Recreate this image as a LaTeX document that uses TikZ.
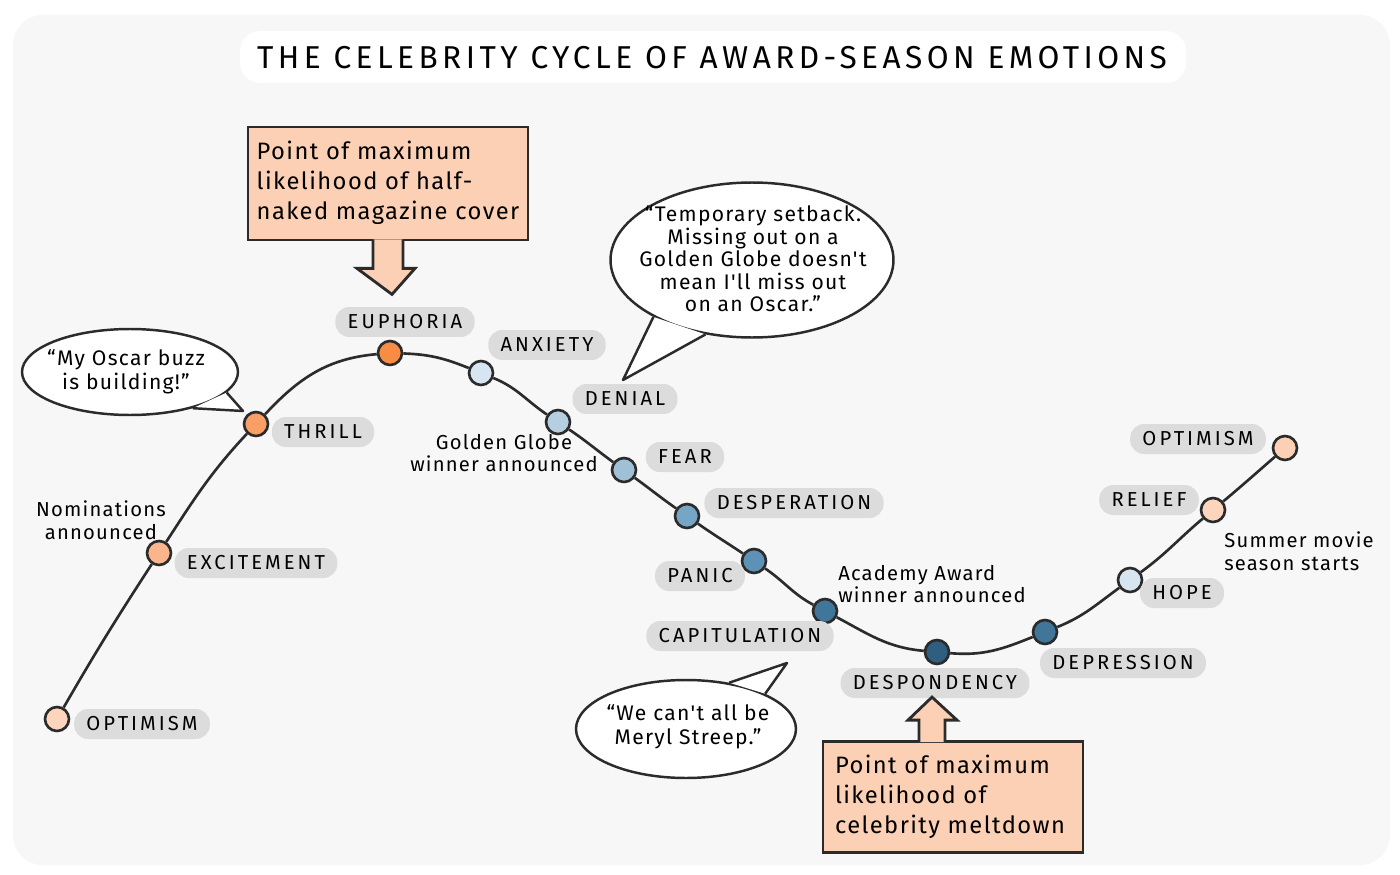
\documentclass[tikz,border=0pt]{standalone}
\usepackage{fontspec}
\setmainfont{Fira Sans}
\newfontfamily\pillfont[LetterSpace=15]{Fira Sans}
\newfontfamily\titlefont[LetterSpace=14]{Fira Sans}
\newfontfamily\handfont[LetterSpace=6]{Fira Sans}
\usepackage{xcolor}
\usepackage{tikz}
\usetikzlibrary{calc,positioning,shapes.geometric}
\definecolor{inkgray}{HTML}{2B2B2B}
\definecolor{paper}{HTML}{F7F7F7}
\definecolor{pillgray}{HTML}{DCDCDC}
\definecolor{peach}{HTML}{FCD0B4}
\definecolor{peachpale}{HTML}{FDD5BD}
\definecolor{peachmid}{HTML}{FBB58C}
\definecolor{peachdeep}{HTML}{F99E64}
\definecolor{orangehot}{HTML}{F78D45}
\definecolor{bluepale}{HTML}{D6E5EF}
\definecolor{bluelight}{HTML}{B5CFE0}
\definecolor{bluesoft}{HTML}{A0C0D6}
\definecolor{bluemid}{HTML}{76A5C6}
\definecolor{bluestrong}{HTML}{5D91B6}
\definecolor{bluedark}{HTML}{3F7699}
\definecolor{bluedeep}{HTML}{2F5E80}
\tikzset{
  stagedot/.style={circle,draw=inkgray,fill=#1,line width=1.5pt,minimum size=0.48cm,inner sep=0pt},
  stagedot/.default=peach,
  pill/.style={rectangle,rounded corners=0.28cm,fill=pillgray,minimum height=0.6cm,inner xsep=7pt,
    font=\pillfont\fontsize{11.5}{12}\selectfont},
  note/.style={align=center,inner sep=0pt,font=\handfont\fontsize{11.5}{13}\selectfont},
  bubble/.style={ellipse,draw=inkgray,fill=white,line width=1.4pt,inner sep=0pt},
  bubtext/.style={align=center,inner sep=0pt,font=\handfont\fontsize{12}{13.5}\selectfont},
  tail/.style={draw=inkgray,fill=white,line width=1.4pt,line join=round},
  callbox/.style={rectangle,draw=inkgray,fill=peach,line width=1.6pt,inner sep=0pt},
  calltext/.style={align=left,inner sep=0pt,font=\handfont\fontsize{13.5}{17}\selectfont},
  callarrow/.style={draw=inkgray,fill=peach,line width=1.6pt,line join=miter},
  cycleline/.style={draw=inkgray,line width=1.5pt}
}

\begin{document}
\begin{tikzpicture}[x=0.02cm,y=-0.02cm]
\useasboundingbox (0,0) rectangle (1400,875);
\fill[white] (0,0) rectangle (1400,875);
\fill[paper,rounded corners=0.6cm] (13,15) rectangle (1390,865);
% title
\fill[white,rounded corners=0.4cm] (240,31) rectangle (1186,83);
\node[font=\titlefont\fontsize{18}{20}\selectfont] (title) at (712,58) {THE CELEBRITY CYCLE OF AWARD-SEASON EMOTIONS};

% stages along the cycle
\node[stagedot=peachpale] (optA) at (57,719) {};
\node[stagedot=peachmid] (excite) at (159,553) {};
\node[stagedot=peachdeep] (thrill) at (256,424) {};
\node[stagedot=orangehot] (euph) at (390,353) {};
\node[stagedot=bluepale] (anx) at (481,373) {};
\node[stagedot=bluelight] (denial) at (558,422) {};
\node[stagedot=bluesoft] (fear) at (624,470) {};
\node[stagedot=bluemid] (desp) at (687,516) {};
\node[stagedot=bluestrong] (panic) at (754,561) {};
\node[stagedot=bluedark] (capit) at (825,611) {};
\node[stagedot=bluedeep] (despond) at (937,652) {};
\node[stagedot=bluedark] (depress) at (1045,632) {};
\node[stagedot=bluepale] (hope) at (1130,580) {};
\node[stagedot=peachpale] (relief) at (1213,510) {};
\node[stagedot=peach] (optB) at (1285,448) {};

\draw[cycleline] (optA) to[out=60,in=237] (excite);
\draw[cycleline] (excite) to[out=57,in=227] (thrill);
\draw[cycleline] (thrill) to[out=47,in=185] (euph);
\draw[cycleline] (euph) to[out=-2,in=158] (anx);
\draw[cycleline] (anx) to[out=-22,in=146] (denial);
\draw[cycleline] (denial) to[out=-34,in=144] (fear);
\draw[cycleline] (fear) to[out=-36,in=145] (desp);
\draw[cycleline] (desp) to[out=-35,in=146] (panic);
\draw[cycleline] (panic) to[out=-34,in=152] (capit);
\draw[cycleline] (capit) to[out=-28,in=175] (despond);
\draw[cycleline] (despond) to[out=-5,in=202] (depress);
\draw[cycleline] (depress) to[out=22,in=216] (hope);
\draw[cycleline] (hope) to[out=36,in=220] (relief);
\draw[cycleline] (relief) to[out=40,in=221] (optB);

% stage names
\node[pill] (optAlbl) at (142,724) {OPTIMISM};
\node[pill] (excitelbl) at (256,563) {EXCITEMENT};
\node[pill] (thrilllbl) at (323,432) {THRILL};
\node[pill] (euphlbl) at (405,322) {EUPHORIA};
\node[pill] (anxlbl) at (547,345) {ANXIETY};
\node[pill] (deniallbl) at (625,399) {DENIAL};
\node[pill] (fearlbl) at (685,457) {FEAR};
\node[pill] (desplbl) at (794,503) {DESPERATION};
\node[pill] (paniclbl) at (700,576) {PANIC};
\node[pill] (capitlbl) at (740,636) {CAPITULATION};
\node[pill] (despondlbl) at (935,683) {DESPONDENCY};
\node[pill] (depresslbl) at (1123,663) {DEPRESSION};
\node[pill] (hopelbl) at (1182,593) {HOPE};
\node[pill] (relieflbl) at (1149,500) {RELIEF};
\node[pill] (optBlbl) at (1198,439) {OPTIMISM};

% events
\node[note] (nomnote) at (101,520) {Nominations\\announced};
\node[note] (globenote) at (504,453) {Golden Globe\\winner announced};
\node[note,align=left] (oscarnote) at (932,584) {Academy Award\\winner announced};
\node[note,align=left] (summernote) at (1299,551) {Summer movie\\season starts};

% speech bubbles
\node[bubble,minimum width=4.32cm,minimum height=1.72cm] (buzzbub) at (130,372) {};
\coordinate (buzztip) at (243,411);
\draw[tail] (buzzbub.-12) -- (buzztip) -- (buzzbub.-30);
\node[bubtext] (buzztext) at (126,372) {“My Oscar buzz\\is building!”};

\node[bubble,minimum width=5.66cm,minimum height=3.1cm] (setbackbub) at (752,260) {};
\coordinate (setbacktip) at (623,380);
\draw[tail] (setbackbub.-150) -- (setbacktip) -- (setbackbub.-122);
\node[bubtext,font=\handfont\fontsize{12}{12.8}\selectfont] (setbacktext) at (753,259)
  {“Temporary setback.\\Missing out on a\\Golden Globe doesn't\\mean I'll miss out\\on an Oscar.”};

\node[bubble,minimum width=4.4cm,minimum height=1.96cm] (streepbub) at (686,729) {};
\coordinate (streeptip) at (787,663);
\draw[tail] (streepbub.47) -- (streeptip) -- (streepbub.24);
\node[bubtext] (streeptext) at (688,727) {“We can't all be\\Meryl Streep.”};

% call-outs
\node[callbox,minimum width=5.6cm,minimum height=2.26cm] (halfbox) at (388,183.5) {};
\draw[callarrow] ($(halfbox.south)+(-15,-2)$) -- ++(0,29) -- ++(-16,0) -- ($(halfbox.south)+(4,53)$)
  -- ($(halfbox.south)+(27,27)$) -- ++(-12,0) -- ++(0,-29);
\node[calltext] (halftext) at (388,183) {Point of maximum\\likelihood of half-\\naked magazine cover};

\node[callbox,minimum width=5.2cm,minimum height=2.22cm] (meltbox) at (953,797) {};
\draw[callarrow] ($(meltbox.north)+(-34,2)$) -- ++(0,-22) -- ++(-11,0) -- ($(meltbox.north)+(-21,-43)$)
  -- ($(meltbox.north)+(4,-20)$) -- ++(-12,0) -- ++(0,22);
\node[calltext] (melttext) at (950,797) {Point of maximum\\likelihood of\\celebrity meltdown};
\end{tikzpicture}
\end{document}
